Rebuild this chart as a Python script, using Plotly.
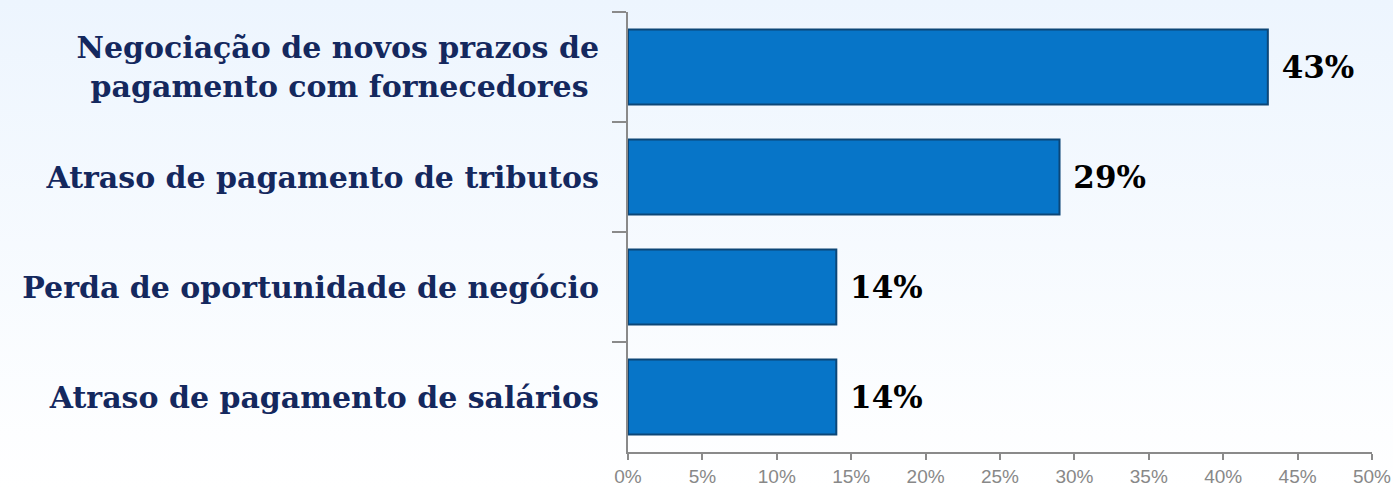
import plotly.graph_objects as go

categories = [
    "Negociação de novos prazos de<br>pagamento com fornecedores\u00a0",
    "Atraso de pagamento de tributos",
    "Perda de oportunidade de negócio",
    "Atraso de pagamento de salários",
]
values = [43, 29, 14, 14]
tick_vals = [0, 5, 10, 15, 20, 25, 30, 35, 40, 45, 50]
tick_text = [f"{v}%" for v in tick_vals]

fig = go.Figure(go.Bar(
    x=values,
    y=categories,
    orientation="h",
    width=0.68,
    marker=dict(color="#0775c8", line=dict(color="#0c4677", width=2)),
    texttemplate="\u00a0%{x}%",
    textposition="outside",
    textfont=dict(family="DejaVu Serif", size=31, color="#000000", weight="bold"),
    cliponaxis=False,
))

fig.update_layout(
    width=1393, height=488,
    margin=dict(l=628, r=21, t=12, b=36),
    paper_bgcolor="rgba(0,0,0,0)",
    plot_bgcolor="rgba(0,0,0,0)",
    showlegend=False,
    xaxis=dict(
        range=[0, 50], tickvals=tick_vals, ticktext=tick_text,
        automargin=False,
        showgrid=False, zeroline=False,
        showline=True, linecolor="#8a8a8a", linewidth=2,
        ticks="outside", ticklen=6, tickcolor="#8a8a8a", tickwidth=2,
        tickfont=dict(family="Liberation Sans", size=19, color="#888888"),
    ),
    yaxis=dict(
        autorange="reversed",
        automargin=False,
        showgrid=False, zeroline=False,
        showline=True, linecolor="#8a8a8a", linewidth=2,
        ticks="outside", ticklen=14, tickcolor="#8a8a8a", tickwidth=2,
        tickson="boundaries",
        ticklabelstandoff=21,
        tickfont=dict(family="DejaVu Serif", size=30, color="#14285e", weight="bold"),
    ),
)

post = (
    "document.body.style.margin='0';"
    "var gd=document.getElementById('{plot_id}');"
    "gd.style.background='linear-gradient(to bottom, #edf5fe, #ffffff)';"
)
fig.write_html("out.html", post_script=post, config={"displayModeBar": False})
